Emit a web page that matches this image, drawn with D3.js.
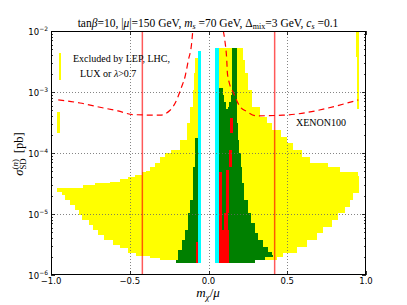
<!DOCTYPE html>
<html>
<head>
<meta charset="utf-8">
<script src="https://cdn.jsdelivr.net/npm/d3@7"></script>
<style>
body { margin: 0; background: #fff; }
svg { display: block; }
</style>
</head>
<body>
<script>
// axis ticks
var xTicks = [-1, -0.5, 0, 0.5, 1];
var yExps = [-6, -5, -4, -3, -2];
var gridX = [-0.5, 0, 0.5];
var gridY = [-5, -4, -3];
var cutLines = [-0.42, 0.42];

// rows: [log10 sigma, m_lo, m_hi]  (each row holds down to the next one)
var yellowLeft = [
  [-2.44, -0.086, -0.067], [-2.69, -0.092, -0.067], [-2.97, -0.098, -0.067],
  [-3.25, -0.117, -0.067], [-3.51, -0.137, -0.067], [-3.79, -0.181, -0.067],
  [-3.95, -0.238, -0.067], [-4.00, -0.276, -0.067], [-4.07, -0.308, -0.067],
  [-4.16, -0.340, -0.067], [-4.23, -0.371, -0.067], [-4.30, -0.397, -0.067],
  [-4.31, -0.422, -0.067], [-4.36, -0.467, -0.067], [-4.39, -0.511, -0.067],
  [-4.43, -0.562, -0.067], [-4.48, -0.625, -0.067], [-4.49, -0.721, -0.067],
  [-4.52, -0.797, -0.067], [-4.57, -0.962, -0.067], [-4.64, -0.930, -0.067],
  [-4.69, -0.911, -0.067], [-4.77, -0.879, -0.067], [-4.85, -0.848, -0.067],
  [-4.93, -0.822, -0.067], [-5.02, -0.803, -0.067], [-5.10, -0.759, -0.067],
  [-5.18, -0.733, -0.067], [-5.26, -0.702, -0.067], [-5.34, -0.663, -0.067],
  [-5.43, -0.606, -0.067], [-5.51, -0.562, -0.067], [-5.56, -0.511, -0.067],
  [-5.64, -0.460, -0.067], [-5.69, -0.371, -0.067], [-5.72, -0.308, -0.067],
  [-5.75, -0.308, -0.067]
];
var greenLeft = [
  [-3.75, -0.086, -0.067], [-4.23, -0.098, -0.067], [-4.77, -0.117, -0.067],
  [-4.98, -0.130, -0.067], [-5.26, -0.149, -0.067], [-5.43, -0.170, -0.067],
  [-5.59, -0.194, -0.067], [-5.75, -0.206, -0.067], [-5.80, -0.206, -0.067]
];
var cyanLeft = [[-2.33, -0.065, -0.050], [-5.80, -0.065, -0.050]];
var cyanRight = [[-2.28, 0.041, 0.067], [-5.80, 0.041, 0.067]];
var yellowRight = [
  [-2.28, 0.067, 0.219], [-2.48, 0.067, 0.232], [-2.69, 0.067, 0.251],
  [-2.97, 0.067, 0.276], [-3.25, 0.067, 0.327], [-3.41, 0.067, 0.371],
  [-3.51, 0.067, 0.403], [-3.62, 0.067, 0.460], [-3.74, 0.067, 0.498],
  [-3.84, 0.067, 0.537], [-3.95, 0.067, 0.594], [-4.07, 0.067, 0.644],
  [-4.16, 0.067, 0.759], [-4.23, 0.067, 0.835], [-4.31, 0.067, 0.949],
  [-4.38, 0.067, 0.957], [-4.66, 0.067, 0.917], [-4.77, 0.067, 0.898],
  [-4.89, 0.067, 0.867], [-4.98, 0.067, 0.822], [-5.10, 0.067, 0.784],
  [-5.21, 0.067, 0.727], [-5.31, 0.067, 0.689], [-5.43, 0.067, 0.625],
  [-5.54, 0.067, 0.562], [-5.64, 0.067, 0.473], [-5.70, 0.067, 0.435],
  [-5.75, 0.067, 0.435]
];
var greenRight = [
  [-2.28, 0.147, 0.178], [-2.69, 0.147, 0.181], [-2.93, 0.067, 0.181],
  [-3.25, 0.067, 0.183], [-3.51, 0.067, 0.187], [-3.79, 0.067, 0.194],
  [-4.00, 0.067, 0.204], [-4.23, 0.067, 0.213], [-4.49, 0.067, 0.225],
  [-4.77, 0.067, 0.251], [-4.98, 0.067, 0.270], [-5.15, 0.067, 0.295],
  [-5.31, 0.067, 0.314], [-5.43, 0.067, 0.344], [-5.54, 0.067, 0.378],
  [-5.62, 0.067, 0.401], [-5.67, 0.067, 0.410], [-5.70, 0.067, 0.359],
  [-5.75, 0.067, 0.295], [-5.80, 0.067, 0.295]
];
var yellowGap = [
  [-2.93, 0.092, 0.147], [-3.05, 0.098, 0.140], [-3.16, 0.108, 0.130],
  [-3.25, 0.114, 0.124], [-3.28, 0.114, 0.124]
];

// blocks: [log10 sigma top, log10 sigma bottom, m_lo, m_hi]
var redBlocks = [
  [-5.46, -5.80, -0.081, -0.069],
  [-5.26, -5.80, 0.069, 0.130],
  [-4.31, -5.26, 0.069, 0.084],
  [-4.28, -4.98, 0.111, 0.130],
  [-4.98, -5.26, 0.098, 0.124],
  [-3.95, -4.23, 0.130, 0.147],
  [-3.43, -3.67, 0.137, 0.154]
];
var yellowStrips = [
  [-2.36, -2.80, -0.952, -0.935],
  [-3.33, -3.67, -0.959, -0.946],
  [-2.00, -2.43, 0.935, 0.957],
  [-2.43, -3.28, 0.945, 0.957]
];

// XENON100 limit: [m, log10 sigma]
var xenonLeft = [
  [-0.954, -3.13], [-0.816, -3.18], [-0.689, -3.25], [-0.575, -3.31],
  [-0.479, -3.37], [-0.308, -3.38], [-0.244, -3.30], [-0.202, -3.13],
  [-0.170, -2.91], [-0.149, -2.75], [-0.128, -2.48], [-0.107, -2.20],
  [-0.100, -2.00]
];
var xenonRight = [
  [0.094, -2.00], [0.105, -2.18], [0.116, -2.48], [0.120, -2.69],
  [0.132, -2.85], [0.156, -3.00], [0.200, -3.24], [0.243, -3.32],
  [0.302, -3.39], [0.473, -3.38], [0.951, -3.13]
];

var width = 407, height = 305;
var mLeft = 51, mRight = 366, mTop = 31, mBottom = 275;

var svg = d3.select('body').append('svg').attr('width', width).attr('height', height);

var x = d3.scaleLinear().domain([-1, 1]).range([mLeft, mRight]);
var y = d3.scaleLog().domain([1e-6, 1e-2]).range([mBottom, mTop]);

svg.append('clipPath').attr('id', 'plot')
  .append('rect').attr('x', mLeft).attr('y', mTop)
  .attr('width', mRight - mLeft).attr('height', mBottom - mTop);

var g = svg.append('g').attr('clip-path', 'url(#plot)');

var band = d3.area()
  .curve(d3.curveStepBefore)
  .y(function(d) { return y(Math.pow(10, d[0])); })
  .x0(function(d) { return x(d[1]); })
  .x1(function(d) { return x(d[2]); });

function drawBand(data, color) {
  g.append('path').datum(data)
    .attr('d', band)
    .attr('fill', color)
    .attr('shape-rendering', 'crispEdges');
}

function drawBlocks(data, color) {
  g.append('g').selectAll('rect').data(data).enter().append('rect')
    .attr('x', function(d) { return x(d[2]); })
    .attr('y', function(d) { return y(Math.pow(10, d[0])); })
    .attr('width', function(d) { return x(d[3]) - x(d[2]); })
    .attr('height', function(d) { return y(Math.pow(10, d[1])) - y(Math.pow(10, d[0])); })
    .attr('fill', color)
    .attr('shape-rendering', 'crispEdges');
}

drawBand(yellowLeft, '#ffff00');
drawBand(yellowRight, '#ffff00');
drawBlocks(yellowStrips, '#ffff00');
drawBand(greenLeft, '#008000');
drawBand(greenRight, '#008000');
drawBand(yellowGap, '#ffff00');
drawBlocks(redBlocks, '#ff0000');
drawBand(cyanLeft, '#00ffff');
drawBand(cyanRight, '#00ffff');

// grid
g.selectAll('.gx').data(gridX).enter().append('line')
  .attr('x1', function(d) { return Math.round(x(d)) + 0.5; })
  .attr('x2', function(d) { return Math.round(x(d)) + 0.5; })
  .attr('y1', mTop).attr('y2', mBottom)
  .attr('stroke', '#666').attr('stroke-width', 0.8).attr('stroke-dasharray', '1,2');
g.selectAll('.gy').data(gridY).enter().append('line')
  .attr('y1', function(d) { return Math.round(y(Math.pow(10, d))) + 0.5; })
  .attr('y2', function(d) { return Math.round(y(Math.pow(10, d))) + 0.5; })
  .attr('x1', mLeft).attr('x2', mRight)
  .attr('stroke', '#666').attr('stroke-width', 0.8).attr('stroke-dasharray', '1,2');

// cut lines
g.selectAll('.cut').data(cutLines).enter().append('line')
  .attr('x1', function(d) { return x(d); }).attr('x2', function(d) { return x(d); })
  .attr('y1', mTop).attr('y2', mBottom)
  .attr('stroke', '#ff0000').attr('stroke-opacity', 0.65).attr('stroke-width', 1.5);

// XENON100 dashed
var xenonLine = d3.line()
  .curve(d3.curveMonotoneX)
  .x(function(d) { return x(d[0]); })
  .y(function(d) { return y(Math.pow(10, d[1])); });
[xenonLeft, xenonRight].forEach(function(pts) {
  g.append('path').datum(pts).attr('d', xenonLine)
    .attr('fill', 'none').attr('stroke', '#ff0000')
    .attr('stroke-width', 1.2).attr('stroke-dasharray', '6,4');
});

// frame
svg.append('rect')
  .attr('x', mLeft + 0.5).attr('y', mTop + 0.5)
  .attr('width', mRight - mLeft - 1).attr('height', mBottom - mTop - 1)
  .attr('fill', 'none').attr('stroke', '#000').attr('stroke-width', 1);

// ticks
var ticks = svg.append('g').attr('stroke', '#000').attr('stroke-width', 0.8);
xTicks.forEach(function(t) {
  var px = Math.round(x(t)) + 0.5;
  ticks.append('line').attr('x1', px).attr('x2', px).attr('y1', mBottom).attr('y2', mBottom - 4);
  ticks.append('line').attr('x1', px).attr('x2', px).attr('y1', mTop).attr('y2', mTop + 4);
});
yExps.forEach(function(e) {
  var py = Math.round(y(Math.pow(10, e))) + 0.5;
  ticks.append('line').attr('x1', mLeft).attr('x2', mLeft + 4).attr('y1', py).attr('y2', py);
  ticks.append('line').attr('x1', mRight).attr('x2', mRight - 4).attr('y1', py).attr('y2', py);
  if (e < -2) {
    for (var k = 2; k < 10; k++) {
      var pm = Math.round(y(k * Math.pow(10, e))) + 0.5;
      ticks.append('line').attr('x1', mLeft).attr('x2', mLeft + 2).attr('y1', pm).attr('y2', pm);
      ticks.append('line').attr('x1', mRight).attr('x2', mRight - 2).attr('y1', pm).attr('y2', pm);
    }
  }
});

// tick labels
var sans = 'DejaVu Sans, sans-serif';
svg.selectAll('.xl').data(xTicks).enter().append('text')
  .attr('x', function(d) { return x(d); }).attr('y', 284)
  .attr('text-anchor', 'middle')
  .style('font-family', sans).style('font-size', '8.5px')
  .text(function(d) { return d3.format('.1f')(d).replace('-', '\u2212'); });

yExps.forEach(function(e) {
  var t = svg.append('text')
    .attr('x', 48).attr('y', y(Math.pow(10, e)) + 4)
    .attr('text-anchor', 'end')
    .style('font-family', sans).style('font-size', '8.5px');
  t.append('tspan').text('10');
  t.append('tspan').attr('dy', -4.5).style('font-size', '6px').text('\u2212' + (-e));
});

// rich text helper
var serif = 'Liberation Serif, Times New Roman, serif';
function rich(sel, parts, size) {
  var shift = 0;
  parts.forEach(function(p) {
    var target = p.sub ? 0.25 * size : (p.sup ? -0.4 * size : 0);
    var dy = target - shift;
    shift = target;
    var ts = sel.append('tspan').text(p.t);
    if (dy) ts.attr('dy', dy);
    if (p.dx) ts.attr('dx', p.dx);
    if (p.i) ts.style('font-style', 'italic');
    if (p.sub || p.sup) ts.style('font-size', (size * 0.7) + 'px');
  });
}

var title = svg.append('text').attr('x', 208).attr('y', 26.5)
  .attr('text-anchor', 'middle')
  .style('font-family', serif).style('font-size', '11.5px');
rich(title, [
  {t: 'tan'}, {t: '\u03b2', i: 1}, {t: '=10, |'}, {t: '\u03bc', i: 1}, {t: '|=150 GeV, '},
  {t: 'm', i: 1}, {t: 's', i: 1, sub: 1}, {t: ' =70 GeV, \u0394'}, {t: 'mix', sub: 1},
  {t: '=3 GeV, '}, {t: 'c', i: 1}, {t: 's', i: 1, sub: 1}, {t: ' =0.1'}
], 11.5);

var notes = svg.append('g').style('font-family', serif).style('font-size', '10px');
notes.append('text').attr('x', 73).attr('y', 62).text('Excluded by LEP, LHC,');
var l2 = notes.append('text').attr('x', 80).attr('y', 76.5);
rich(l2, [{t: 'LUX or '}, {t: '\u03bb', i: 1}, {t: '>0.7'}], 10);
notes.append('text').attr('x', 296).attr('y', 125.5).text('XENON100');

var xl = svg.append('text').attr('x', 208).attr('y', 297)
  .attr('text-anchor', 'middle')
  .style('font-family', serif).style('font-size', '13px');
rich(xl, [{t: 'm', i: 1}, {t: '\u03c7', i: 1, sub: 1}, {t: '/'}, {t: '\u03bc', i: 1}], 13);

var yl = svg.append('text')
  .attr('transform', 'translate(23,154) rotate(-90)')
  .attr('text-anchor', 'middle')
  .style('font-family', serif).style('font-size', '12.5px');
rich(yl, [
  {t: '\u03c3', i: 1}, {t: 'SD', sub: 1},
  {t: '(', sup: 1, dx: -11}, {t: 'n', i: 1, sup: 1}, {t: ')', sup: 1},
  {t: '[pb]', dx: 6}
], 12.5);
</script>
</body>
</html>
